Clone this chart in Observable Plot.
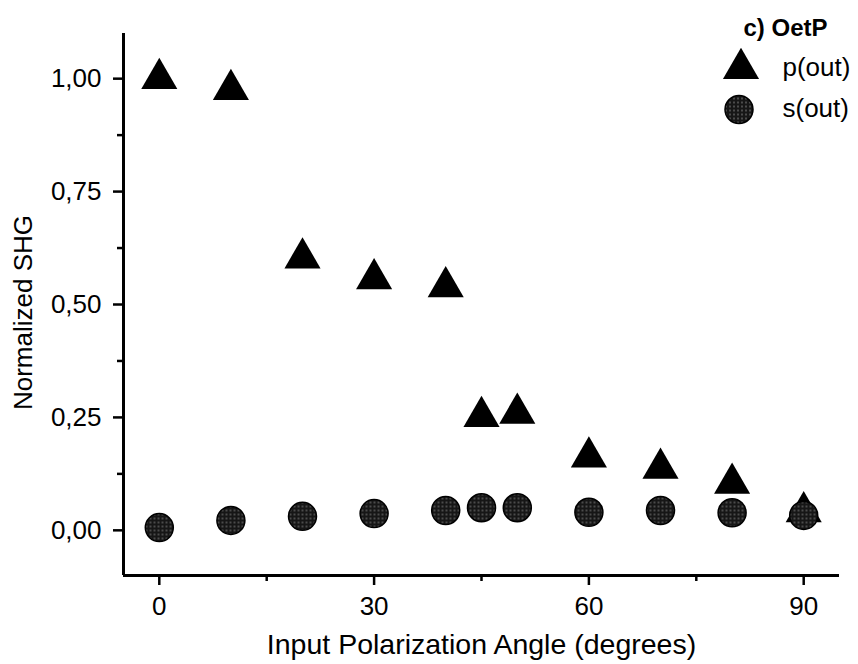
<!DOCTYPE html>
<html>
<head>
<meta charset="utf-8">
<script src="https://cdn.jsdelivr.net/npm/d3@7"></script>
<script src="https://cdn.jsdelivr.net/npm/@observablehq/plot@0.6"></script>
<style>
  html, body { margin: 0; padding: 0; background: #fff; }
  svg { display: block; }
</style>
</head>
<body>
<div id="chart"></div>
<script>
const angles = [0, 10, 20, 30, 40, 45, 50, 60, 70, 80, 90];
const pOut = [1.00, 0.976, 0.603, 0.557, 0.539, 0.252, 0.259, 0.162, 0.137, 0.104, 0.041];
const sOut = [0.006, 0.022, 0.031, 0.037, 0.044, 0.050, 0.050, 0.040, 0.044, 0.039, 0.033];
const xTicks = [0, 30, 60, 90];
const xMinorTicks = [15, 45, 75];
const yTicks = [0, 0.25, 0.5, 0.75, 1.0];
const yMinorTicks = [0.125, 0.375, 0.625, 0.875];
const xLabel = "Input Polarization Angle (degrees)";
const yLabel = "Normalized SHG";
const panelTitle = "c) OetP";
const seriesNames = ["p(out)", "s(out)"];

const pData = angles.map((a, i) => ({angle: a, value: pOut[i]}));
const sData = angles.map((a, i) => ({angle: a, value: sOut[i]}));
const fmt = d => d.toFixed(2).replace(".", ",");
const FONT = "'Liberation Sans', Arial, Helvetica, sans-serif";

const chart = Plot.plot({
  width: 858,
  height: 664,
  marginLeft: 123,
  marginRight: 19,
  marginTop: 33,
  marginBottom: 89,
  style: {fontFamily: FONT, color: "#000", background: "#fff"},
  x: {domain: [-5, 95]},
  y: {domain: [-0.1, 1.1]},
  marks: [
    Plot.axisX(xTicks, {tickSize: 10, tickPadding: 11, fontSize: 26, strokeWidth: 2.5, label: null}),
    Plot.axisX(xMinorTicks, {tickSize: 6, tickFormat: () => "", strokeWidth: 2.5, label: null}),
    Plot.axisY(yTicks, {tickSize: 10, tickPadding: 12, fontSize: 26, strokeWidth: 2.5, tickFormat: fmt, label: null}),
    Plot.axisY(yMinorTicks, {tickSize: 6, tickFormat: () => "", strokeWidth: 2.5, label: null}),
    Plot.ruleX([-5], {stroke: "#000", strokeWidth: 3}),
    Plot.ruleY([-0.1], {stroke: "#000", strokeWidth: 3}),
    Plot.text([xLabel], {frameAnchor: "bottom", dy: 69, textAnchor: "middle", lineAnchor: "middle", fontSize: 28.5, fill: "#000"}),
    Plot.text([yLabel], {frameAnchor: "left", rotate: -90, dx: -100, dy: 8, textAnchor: "middle", lineAnchor: "middle", fontSize: 26, fill: "#000"}),
    Plot.dot(pData, {x: "angle", y: "value", symbol: "triangle", r: 13.4, fill: "#000", stroke: "none"}),
    Plot.dot(sData, {x: "angle", y: "value", symbol: "circle", r: 14, fill: "url(#dotpat)", stroke: "#000", strokeWidth: 1.5}),
    // legend
    Plot.text([panelTitle], {frameAnchor: "top-right", dx: -96, dy: -5, textAnchor: "start", lineAnchor: "middle", fontSize: 24, fontWeight: "bold", fill: "#000"}),
    Plot.dot([seriesNames[0]], {frameAnchor: "top-right", dx: -98.5, dy: 35, symbol: "triangle", r: 13.4, fill: "#000", stroke: "none"}),
    Plot.dot([seriesNames[1]], {frameAnchor: "top-right", dx: -100.5, dy: 76, symbol: "circle", r: 14, fill: "url(#dotpat)", stroke: "#000", strokeWidth: 1.5}),
    Plot.text([seriesNames[0]], {frameAnchor: "top-right", dx: -57, dy: 34, textAnchor: "start", lineAnchor: "middle", fontSize: 26, fill: "#000"}),
    Plot.text([seriesNames[1]], {frameAnchor: "top-right", dx: -57, dy: 75, textAnchor: "start", lineAnchor: "middle", fontSize: 26, fill: "#000"})
  ]
});

// dotted halftone pattern for the s(out) circles
const ns = "http://www.w3.org/2000/svg";
const defs = document.createElementNS(ns, "defs");
const pat = document.createElementNS(ns, "pattern");
pat.setAttribute("id", "dotpat");
pat.setAttribute("width", "4");
pat.setAttribute("height", "4");
pat.setAttribute("patternUnits", "userSpaceOnUse");
const bg = document.createElementNS(ns, "rect");
bg.setAttribute("width", "4");
bg.setAttribute("height", "4");
bg.setAttribute("fill", "#161616");
const dot = document.createElementNS(ns, "circle");
dot.setAttribute("cx", "2");
dot.setAttribute("cy", "2");
dot.setAttribute("r", "0.75");
dot.setAttribute("fill", "#9a9a9a");
pat.appendChild(bg);
pat.appendChild(dot);
defs.appendChild(pat);
chart.insertBefore(defs, chart.firstChild);

document.getElementById("chart").appendChild(chart);
</script>
</body>
</html>
